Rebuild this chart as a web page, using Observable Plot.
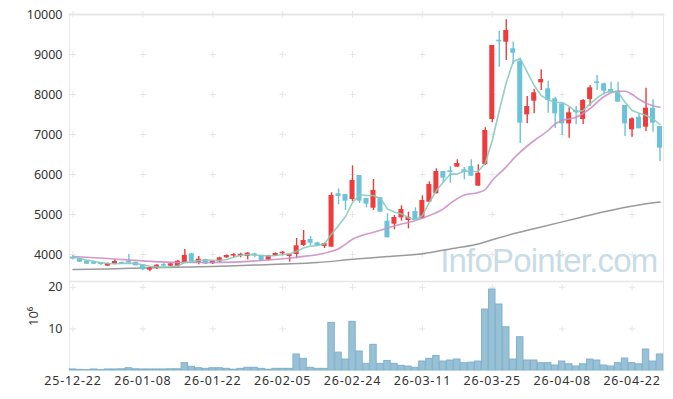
<!DOCTYPE html>
<html><head><meta charset="utf-8">
<script src="https://cdn.jsdelivr.net/npm/d3@7"></script>
<script src="https://cdn.jsdelivr.net/npm/@observablehq/plot@0.6"></script>
<style>
body{margin:0;background:#fff;}
#chart{width:673px;height:399px;}
#chart svg{display:block;}
</style></head><body><div id="chart"></div>
<script>
// trading days
const dates = ["25-12-22","25-12-23","25-12-24","25-12-26","25-12-29","25-12-30","26-01-02","26-01-05","26-01-06","26-01-07",
"26-01-08","26-01-09","26-01-12","26-01-13","26-01-14","26-01-15","26-01-16","26-01-19","26-01-20","26-01-21",
"26-01-22","26-01-23","26-01-26","26-01-27","26-01-28","26-01-29","26-01-30","26-02-02","26-02-03","26-02-04",
"26-02-05","26-02-06","26-02-09","26-02-10","26-02-11","26-02-12","26-02-13","26-02-19","26-02-20","26-02-23",
"26-02-24","26-02-25","26-02-26","26-02-27","26-03-03","26-03-04","26-03-05","26-03-06","26-03-09","26-03-10",
"26-03-11","26-03-12","26-03-13","26-03-16","26-03-17","26-03-18","26-03-19","26-03-20","26-03-23","26-03-24",
"26-03-25","26-03-26","26-03-27","26-03-30","26-03-31","26-04-01","26-04-02","26-04-03","26-04-06","26-04-07",
"26-04-08","26-04-09","26-04-10","26-04-13","26-04-14","26-04-15","26-04-16","26-04-17","26-04-20","26-04-21",
"26-04-22","26-04-23","26-04-24","26-04-27","26-04-28"];

const open = [3935,3900,3833,3808,3760,3708,3758,3800,3817,3800,
3742,3608,3658,3742,3708,3700,3792,4017,3783,3875,
3767,3817,3917,3960,3965,3950,4017,3975,3858,3958,
4017,3950,4000,4225,4375,4292,4200,4183,5517,5500,
5375,5975,5400,5158,5417,4833,4758,4917,4850,5075,
4892,5308,5517,6075,6067,6183,6117,6200,5708,6250,
7375,9333,9308,9142,8833,7492,7833,8292,8142,7892,
7767,7267,7600,7375,7875,8300,8267,8125,8083,7725,
7117,7433,7183,7658,7200];
const high = [3975,3910,3840,3815,3800,3785,3875,3810,4000,3810,
3750,3683,3742,3792,3790,3858,4125,4033,3950,3883,
3842,3933,3990,4017,4033,4050,4033,3983,3983,4042,
4075,4017,4400,4600,4450,4300,4283,5542,5642,5500,
6217,5975,5400,5875,5417,5017,4975,5217,5058,5167,
5467,5817,6142,6075,6200,6367,6175,6367,6242,7167,
9225,9583,9867,9308,8908,7950,8125,8617,8333,7933,
7767,7667,7700,7875,8225,8475,8290,8308,8308,7725,
7420,7517,8158,7867,7200];
const low = [3865,3800,3750,3750,3725,3700,3742,3750,3775,3710,
3600,3567,3625,3683,3700,3690,3783,3792,3742,3750,
3750,3800,3905,3917,3917,3867,3917,3833,3840,3950,
3967,3808,3892,4200,4225,4200,4150,4183,5242,5100,
5325,5275,5167,5100,5058,4417,4617,4833,4642,4875,
4892,5300,5517,5783,5783,6183,5867,5958,5708,6225,
7292,8683,8850,8750,6775,7267,7517,8100,7533,7150,
6975,6908,7242,7250,7708,8100,7990,8042,7808,6950,
6933,7142,7075,7058,6325];
const close = [3885,3808,3758,3758,3750,3775,3825,3758,3783,3717,
3617,3658,3733,3708,3767,3833,3975,3808,3883,3760,
3825,3917,3975,3975,3983,4033,3975,3842,3975,4025,
4025,4008,4217,4350,4283,4217,4275,5475,5450,5333,
5850,5333,5258,5600,5058,4417,4925,5125,4933,4875,
5350,5750,6075,5908,6050,6275,6058,5958,6033,7100,
9225,9317,9600,9033,7283,7700,8042,8375,7850,7517,
7267,7542,7550,7850,8167,8275,8083,8042,7808,7267,
7392,7142,7658,7283,6658];
// volume, millions of shares
const volume = [0.25,0.15,0.1,0.25,0.1,0.25,0.25,0.3,0.55,0.3,
0.25,0.25,0.25,0.25,0.3,0.3,1.76,0.9,0.55,0.4,
0.55,0.55,0.4,0.2,0.4,0.65,0.65,0.4,0.2,0.4,
0.4,0.4,3.85,2.8,0.65,0.4,0.4,11.45,4.3,2.64,
11.7,4.57,1.6,6.17,1.6,2.3,1.6,1.12,0.95,0.65,
2.16,2.8,3.5,2.16,2.4,2.64,1.76,1.9,2.16,14.66,
19.47,15.87,10.4,2.64,8.0,2.4,2.4,1.76,1.76,1.2,
2.16,1.5,0.96,1.5,2.64,2.4,1.2,0.96,1.76,2.88,
1.76,1.5,5.05,2.16,3.85];
// moving averages
const ma5 = [3930,3900,3860,3830,3795,3775,3770,3775,3785,3775,
3740,3705,3690,3685,3695,3720,3800,3820,3850,3860,
3855,3850,3875,3930,3980,4000,3985,3975,3965,3975,
4000,4015,4080,4165,4210,4225,4265,4515,4725,4950,
5300,5490,5475,5475,5395,5140,5060,5015,4920,4865,
4975,5305,5600,5810,6015,6010,6090,6075,6080,6285,
6850,7600,8300,8825,8900,8560,8225,7975,7865,7805,
7800,7710,7560,7600,7767,7917,8033,8083,8058,7808,
7600,7533,7475,7392,7250];
const ma20Idx = [0,5,10,15,20,23,27,32,36,38,40,43,45,47,49,51,53,54,56,58,59,60,62,63,64,66,68,69,70,72,74,76,78,79,81,82,83,84];
const ma20Val = [3950,3900,3840,3800,3800,3810,3850,3933,4033,4142,4380,4558,4660,4760,4850,4975,5142,5280,5490,5550,5625,5850,6190,6390,6560,6850,7100,7267,7350,7430,7650,7950,8083,8083,7880,7783,7720,7683];
const ma60Idx = [0,5,10,15,20,25,30,35,40,45,50,55,58,60,63,67,72,76,81,84];
const ma60Val = [3625,3640,3660,3680,3700,3730,3760,3800,3880,3950,4020,4170,4260,4370,4517,4690,4900,5070,5240,5310];

const priceTicks = [4000,5000,6000,7000,8000,9000,10000];
const volTicks = [10,20];
const dateTickIdx = [0,10,20,30,40,50,60,70,80];

const candles = dates.map((d,i)=>({i, o:open[i], h:high[i], l:low[i], c:close[i], v:volume[i], up: close[i] >= open[i]}));
const ma5Data = ma5.map((v,i)=>({i, v}));
const ma20Data = ma20Idx.map((i,k)=>({i, v:ma20Val[k]}));
const ma60Data = ma60Idx.map((i,k)=>({i, v:ma60Val[k]}));
const crossTop = dateTickIdx.flatMap(i => priceTicks.map(p => ({i, p})));
const crossBot = dateTickIdx.flatMap(i => volTicks.map(p => ({i, p})));

const W = 673, ML = 69, MR = 10;
const xDom = [-0.5, 84.5];
const UP = "#ee3b3b", DN = "#6cc2d9";
const font = "'Noto Sans', sans-serif";
const half = 0.36;

const topPlot = Plot.plot({
  width: W, height: 281, marginTop: 14, marginBottom: 0, marginLeft: ML, marginRight: MR,
  style: {fontFamily: font, fontSize: "12.5px", color: "#333", background: "transparent", overflow: "visible"},
  x: {domain: xDom, axis: null},
  y: {domain: [3325, 10000], ticks: priceTicks, tickSize: 0, tickPadding: 7, tickFormat: d => String(d), label: null},
  marks: [
    Plot.text(["InfoPointer.com"], {frameAnchor: "bottom-right", dx: -6, dy: -10, lineAnchor: "bottom", textAnchor: "end",
      fontSize: 33, fill: "#c8dce6", fontFamily: "'Liberation Sans', Arial, sans-serif"}),
    Plot.dot(crossTop, {x: "i", y: "p", symbol: "plus", r: 2.2, stroke: "#e6e6e6", strokeWidth: 1}),
    Plot.frame({anchor: "top", stroke: "#e6e6e6", strokeWidth: 2}),
    Plot.frame({anchor: "left", stroke: "#e8e8e8"}),
    Plot.frame({anchor: "right", stroke: "#e8e8e8"}),
    Plot.line(ma60Data, {x: "i", y: "v", stroke: "#9a9a9a", strokeWidth: 1.5, curve: "monotone-x"}),
    Plot.ruleX(candles, {x: "i", y1: "l", y2: "h", stroke: d => d.up ? UP : DN, strokeWidth: 1.4}),
    Plot.rect(candles, {x1: d => d.i - half, x2: d => d.i + half,
      y1: d => Math.min(d.o, d.c) , y2: d => Math.max(Math.max(d.o, d.c), Math.min(d.o, d.c) + 40),
      fill: d => d.up ? UP : DN}),
    Plot.line(ma20Data, {x: "i", y: "v", stroke: "#cc8ec9", strokeOpacity: 0.9, strokeWidth: 1.6, curve: "monotone-x"}),
    Plot.line(ma5Data, {x: "i", y: "v", stroke: "#86cbbd", strokeOpacity: 0.9, strokeWidth: 1.6}),
  ]
});

const botPlot = Plot.plot({
  width: W, height: 118, marginTop: 0, marginBottom: 29, marginLeft: ML, marginRight: MR,
  style: {fontFamily: font, fontSize: "12.5px", color: "#333", background: "transparent", overflow: "visible"},
  x: {domain: xDom, ticks: dateTickIdx, tickFormat: i => dates[i], tickSize: 0, tickPadding: 6, label: null},
  y: {domain: [0, 21.4], ticks: volTicks, tickSize: 0, tickPadding: 7, label: null},
  marks: [
    Plot.dot(crossBot, {x: "i", y: "p", symbol: "plus", r: 2.2, stroke: "#e6e6e6", strokeWidth: 1}),
    Plot.frame({anchor: "top", stroke: "#e6e6e6", strokeWidth: 1.5}),
    Plot.frame({anchor: "left", stroke: "#e8e8e8"}),
    Plot.frame({anchor: "right", stroke: "#e8e8e8"}),
    Plot.rectY(candles, {x1: d => d.i - 0.46, x2: d => d.i + 0.46, y: "v", fill: "#98c1d6", stroke: "#80b1cd", strokeWidth: 1}),
    Plot.text(["10⁶"], {frameAnchor: "left", dx: -36, dy: 0, rotate: -90, fontSize: 13, fill: "#333"})
  ]
});

const root = document.getElementById("chart");
root.appendChild(topPlot);
root.appendChild(botPlot);
d3.select(topPlot).selectAll("text").filter(function(){ return this.textContent === "InfoPointer.com"; })
  .style("letter-spacing", "-0.8px");
d3.select(botPlot).selectAll('g[aria-label="x-axis tick label"] text').style("letter-spacing", "0.8px");
</script></body></html>
